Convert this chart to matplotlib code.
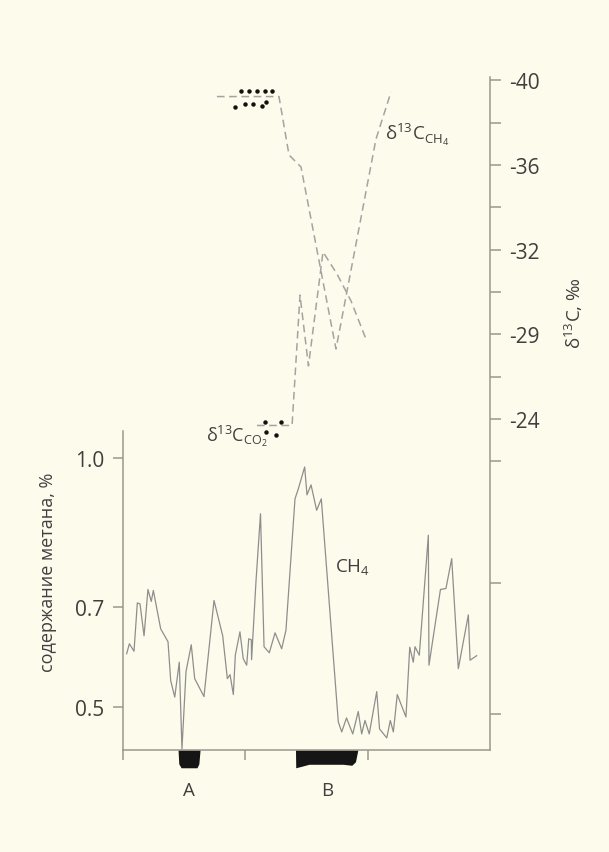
import numpy as np
import matplotlib
matplotlib.use('Agg')
import matplotlib.pyplot as plt
from matplotlib.ticker import FixedLocator

plt.rcParams['font.family'] = ['Open Sans', 'DejaVu Sans']

# methane content along the profile, %
ch4_x = [0.30, 0.52, 0.90, 1.17, 1.39, 1.72, 2.04, 2.31, 2.48, 3.08, 3.68, 3.90, 4.23, 4.60,
         4.82, 5.15, 5.58, 5.86, 6.62, 7.44, 8.15, 8.53, 8.75, 9.02, 9.18, 9.56, 9.83, 10.11,
         10.28, 10.49, 10.51, 10.87, 11.24, 11.53, 11.96, 12.43, 12.97, 13.32, 14.06, 14.33,
         14.85, 15.04, 15.37, 15.83, 16.21, 17.60, 17.88, 18.27, 18.78, 19.23, 19.51, 19.78,
         20.13, 20.74, 20.97, 21.56, 21.85, 22.10, 22.42, 23.13, 23.44, 23.73, 23.87, 24.22,
         24.96, 25.01, 25.95, 26.40, 26.87, 27.41, 28.23, 28.37, 28.91]
ch4_pct = [0.607, 0.627, 0.612, 0.709, 0.707, 0.643, 0.736, 0.712, 0.734, 0.657, 0.631, 0.553,
           0.520, 0.590, 0.416, 0.571, 0.625, 0.557, 0.521, 0.714, 0.643, 0.557, 0.565, 0.525,
           0.604, 0.651, 0.597, 0.584, 0.637, 0.635, 0.595, 0.752, 0.888, 0.621, 0.609, 0.649,
           0.617, 0.654, 0.918, 0.938, 0.982, 0.926, 0.946, 0.895, 0.918, 0.470, 0.450, 0.478,
           0.446, 0.491, 0.446, 0.473, 0.446, 0.531, 0.456, 0.438, 0.473, 0.450, 0.525, 0.480,
           0.620, 0.590, 0.621, 0.604, 0.845, 0.584, 0.736, 0.738, 0.798, 0.577, 0.685, 0.594,
           0.603]

# delta13C, permil
d13c_ch4_x = [7.68, 12.75, 13.57, 14.55, 17.41, 20.68, 21.91]
d13c_ch4 = [-39.24, -39.24, -36.48, -35.91, -28.13, -37.23, -39.46]
d13c_co2_x = [10.95, 13.82, 14.47, 15.16, 16.35, 17.49, 18.64, 19.86]
d13c_co2 = [-23.61, -23.61, -30.39, -27.13, -31.92, -31.14, -30.18, -28.72]

# single measurements
ch4_pts_x = [9.65, 10.32, 10.95, 11.61, 12.18, 9.16, 9.97, 10.63, 11.34, 11.69]
ch4_pts = [-39.50, -39.50, -39.50, -39.50, -39.50, -38.77, -38.91, -38.89, -38.80, -39.00]
co2_pts_x = [11.61, 11.69, 12.89, 12.51]
co2_pts = [-23.81, -23.22, -23.83, -23.07]

# layers A and B (lower edge, in the methane axis units)
layer_a_x = [4.50, 4.56, 4.75, 6.05, 6.20, 6.30]
layer_a_bottom = [0.414, 0.386, 0.378, 0.378, 0.386, 0.414]
layer_b_x = [14.10, 14.12, 14.60, 15.20, 18.00, 18.70, 19.00, 19.20]
layer_b_bottom = [0.414, 0.378, 0.381, 0.385, 0.385, 0.383, 0.390, 0.414]
layer_names = ['A', 'B']
layer_label_x = [5.4, 16.7]

ch4_ticks = [0.5, 0.7, 1.0]
d13c_ticks = [-40, -36, -32, -29, -24]
d13c_minor = [-38, -34, -30.5, -26.5, -21.5, -14.3, -6.55]
x_ticks = [0, 10, 20]

bg = '#fdfbeb'
axis_col = '#9b998c'
line_col = '#8e8e8e'
dash_col = '#a3a3a3'
text_col = '#3f3f3f'
fs = 13.5
tick_fs = 15

fig = plt.figure(figsize=(6.09, 8.53), dpi=100, facecolor=bg)
ax = fig.add_axes([123 / 609, 102 / 853, 367 / 609, 673 / 853])
ax.set_facecolor(bg)

ax.plot(ch4_x, ch4_pct, color=line_col, lw=0.9, zorder=3)
ax.set_xlim(0, 30)
ax.set_ylim(0.4137, 1.765)

ax.fill_between(layer_a_x, layer_a_bottom, 0.414, color='#151515', lw=0, clip_on=False)
ax.fill_between(layer_b_x, layer_b_bottom, 0.414, color='#151515', lw=0, clip_on=False)
for name, lx in zip(layer_names, layer_label_x):
    ax.text(lx, -0.06, name, transform=ax.get_xaxis_transform(), ha='center', va='center',
            fontsize=fs, color=text_col)

ax.text(17.33, 0.771, r'CH$_{\mathregular{4}}$', fontsize=fs, color=text_col, va='baseline')

for s in ['top', 'right']:
    ax.spines[s].set_visible(False)
for s in ['left', 'bottom']:
    ax.spines[s].set_color(axis_col)
    ax.spines[s].set_linewidth(1.1)
ax.spines['left'].set_bounds(0.414, 1.054)
ax.set_yticks(ch4_ticks, labels=[str(t) for t in ch4_ticks])
ax.set_xticks(x_ticks, labels=[])
ax.tick_params(axis='both', direction='out', length=7.5, width=1.1, color=axis_col,
               labelsize=tick_fs, labelcolor=text_col, pad=6)

# delta13C axis on the right, unevenly spaced scale
scale_vals = [-60, -40, -36, -32, -29, -24, 0]
scale_pos = [-5, 0, 1, 2, 3, 4, 8.8]


def fwd(v):
    return np.interp(v, scale_vals, scale_pos)


def inv(p):
    return np.interp(p, scale_pos, scale_vals)


ax2 = ax.twinx()
ax2.set_yscale('function', functions=(fwd, inv))
ax2.set_ylim(-4.43, -40.165)
ax2.plot(d13c_ch4_x, d13c_ch4, color=dash_col, lw=1.1, ls=(0, (5, 3)))
ax2.plot(d13c_co2_x, d13c_co2, color=dash_col, lw=1.1, ls=(0, (5, 3)))
ax2.plot(ch4_pts_x, ch4_pts, 'o', color='#111111', ms=3.2, mew=0)
ax2.plot(co2_pts_x, co2_pts, 'o', color='#111111', ms=3.2, mew=0)

ax2.text(21.42, -37.23, r'δ$^{\mathregular{13}}$C$_{\mathregular{CH}_{\mathregular{4}}}$',
         fontsize=fs, color=text_col, va='baseline')
ax2.text(6.79, -22.70, r'δ$^{\mathregular{13}}$C$_{\mathregular{CO}_{\mathregular{2}}}$',
         fontsize=13, color=text_col, va='baseline')

for s in ['top', 'left', 'bottom']:
    ax2.spines[s].set_visible(False)
ax2.spines['right'].set_color(axis_col)
ax2.spines['right'].set_linewidth(1.1)
ax2.set_yticks(d13c_ticks, labels=[str(t) for t in d13c_ticks])
ax2.yaxis.set_minor_locator(FixedLocator(d13c_minor))
ax2.yaxis.set_minor_formatter(plt.NullFormatter())
ax2.tick_params(axis='y', which='both', direction='out', length=8, width=1.1, color=axis_col,
                labelsize=tick_fs, labelcolor=text_col, pad=6)

fig.text(48 / 609, 1 - 572 / 853, 'содержание метана, %', rotation=90, ha='center', va='center',
         fontsize=13, color=text_col)
fig.text(574 / 609, 1 - 313 / 853, r'δ$^{\mathregular{13}}$C, ‰', rotation=90, ha='center',
         va='center', fontsize=fs, color=text_col)

fig.savefig('out.png', dpi=100, facecolor=bg)
